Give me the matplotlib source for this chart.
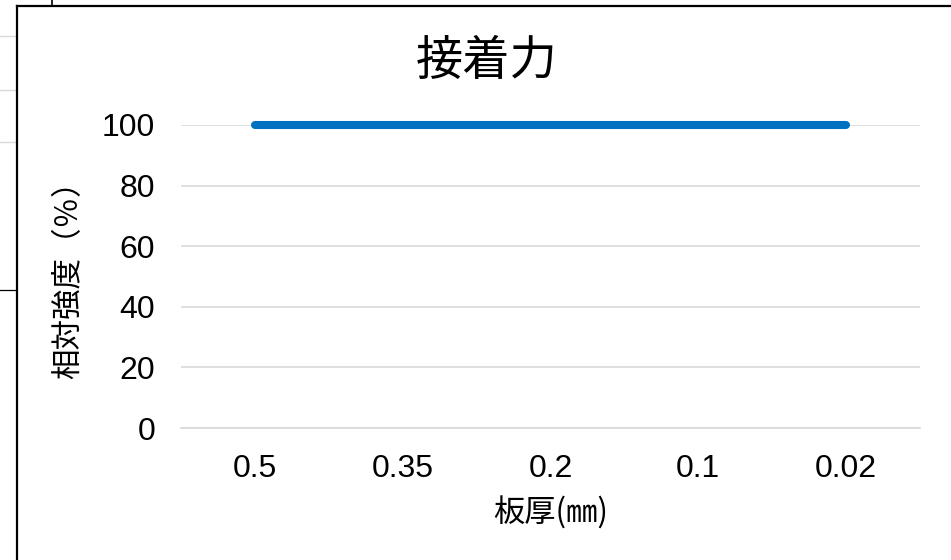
import matplotlib
matplotlib.use('Agg')
import matplotlib.pyplot as plt
from matplotlib.lines import Line2D

plt.rcParams['font.family'] = ['Liberation Sans', 'Noto Sans CJK JP', 'DejaVu Sans']

categories = ['0.5', '0.35', '0.2', '0.1', '0.02']
strength = [100, 100, 100, 100, 100]
yticks = [0, 20, 40, 60, 80, 100]

W, H = 951, 560
fig = plt.figure(figsize=(W / 100, H / 100), dpi=100)

# spreadsheet bits peeking out behind the chart box
def px_line(x0, y0, x1, y1, **kw):
    fig.add_artist(Line2D([x0 / W, x1 / W], [1 - y0 / H, 1 - y1 / H],
                          transform=fig.transFigure, **kw))

for gy in [36, 90, 142]:
    px_line(0, gy, 16, gy, color='#d9d9d9', lw=1)
px_line(0, 290, 16, 290, color='black', lw=0.9)
px_line(52, 0, 52, 5.5, color='black', lw=1.2)
# chart frame
px_line(16.5, 5.5, W, 5.5, color='black', lw=1.6)
px_line(16.5, 5.5, 16.5, H, color='black', lw=1.6)

ax = fig.add_axes([181 / W, 1 - 428 / H, 739 / W, 303 / H])
x = list(range(len(categories)))
ax.plot(x, strength, color='#0070C0', lw=5.8, solid_capstyle='round', clip_on=False, zorder=3)

ax.set_xlim(-0.5, len(categories) - 0.5)
ax.set_ylim(0, 100)
ax.set_yticks(yticks)
ax.set_xticks(x)
ax.set_xticklabels(categories)
ax.grid(axis='y', color='#d9d9d9', lw=1.2)
ax.set_axisbelow(True)
for s in ['top', 'right', 'left']:
    ax.spines[s].set_visible(False)
ax.spines['bottom'].set_color('#d9d9d9')
ax.spines['bottom'].set_linewidth(1.2)
ax.tick_params(axis='both', length=0, labelsize=23, colors='black')
ax.tick_params(axis='y', pad=18.5)
ax.tick_params(axis='x', pad=19)

fig.text(487 / W, 1 - 62 / H, '接着力', ha='center', va='center', fontsize=34,
         family=['Noto Sans CJK JP', 'DejaVu Sans'])
fig.text(69 / W, 1 - 272 / H, '相対強度（％）', ha='center', va='center', fontsize=22,
         rotation=90, family=['Noto Sans CJK JP', 'DejaVu Sans'])
fig.text(551 / W, 1 - 513 / H, '板厚(㎜)', ha='center', va='center', fontsize=22.5,
         family=['Noto Sans CJK JP', 'DejaVu Sans'])

fig.savefig('out.png', dpi=100)
